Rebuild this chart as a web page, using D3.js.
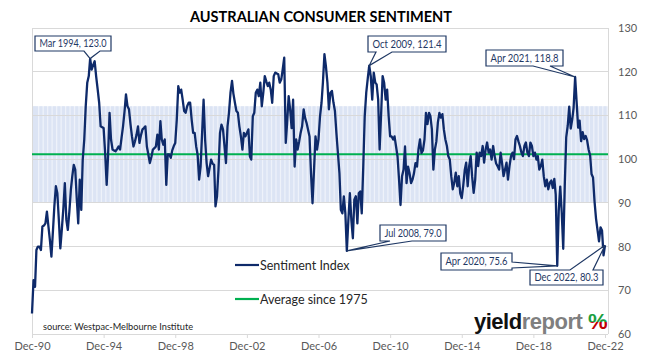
<!DOCTYPE html>
<html><head><meta charset="utf-8">
<script src="https://cdn.jsdelivr.net/npm/d3@7"></script>
<style>
body{margin:0;background:#fff;}
svg{display:block;font-family:Lato,"Open Sans",sans-serif;}
</style></head><body>
<svg id="c" width="652" height="357"></svg>
<script>
// ---------------- DATA ----------------
const chartTitle = "AUSTRALIAN CONSUMER SENTIMENT";
const firstMonth = [1990, 11]; // Dec 1990 (year, zero-based month)
// Monthly Westpac-Melbourne Institute index, Dec 1990 .. Dec 1999
const sentiment1990s = [64.7,
  72.3,70.8,79.2,80.0,80.0,79.2,84.6,84.8,85.3,88.0,84.6,81.5,
  77.7,83.5,89.2,93.8,92.2,86.0,79.6,84.0,88.8,94.5,86.1,83.8,
  88.0,93.0,96.0,98.7,97.6,91.0,85.3,95.3,88.4,99.9,104.5,112.1,
  117.5,119.0,123.0,120.5,121.5,122.4,119.0,116.0,112.9,107.5,107.3,107.1,
  101.4,94.1,100.6,110.6,104.5,102.2,102.0,101.8,102.3,102.9,102.2,104.8,
  107.5,111.0,114.8,112.1,111.4,108.0,105.2,102.9,104.1,105.5,107.5,103.7,
  105.5,106.8,107.1,107.5,102.9,101.0,99.1,100.5,102.2,102.5,102.9,105.6,
  102.2,108.7,104.5,103.3,104.5,94.1,101.1,101.1,100.3,102.0,103.0,103.7,
  109.0,116.7,115.2,115.9,113.6,111.0,110.6,112.1,112.9,112.9,109.0,106.0];
// Jan 2000 .. Dec 2009
const sentiment2000s = [
  106.0,102.9,101.0,95.3,98.3,106.0,113.6,104.5,99.1,96.1,98.0,99.9,
  99.0,98.7,89.2,91.5,97.6,106.0,107.9,106.8,102.9,99.1,107.5,110.6,
  115.2,117.9,115.0,112.9,111.0,110.6,107.5,105.2,102.2,106.0,105.2,106.0,
  106.8,100.6,99.9,109.8,110.6,115.2,115.9,114.4,117.5,112.1,115.2,119.0,
  117.8,116.7,117.5,115.9,112.9,119.0,119.8,119.6,119.4,117.5,118.2,120.5,
  123.2,103.7,108.3,114.4,111.4,107.1,113.6,98.3,104.5,102.2,104.0,106.0,
  107.5,111.4,109.5,108.3,106.8,105.2,96.8,89.9,97.6,105.2,102.2,104.5,
  109.8,112.9,117.5,124.0,121.3,117.5,111.4,115.2,115.6,113.0,111.0,106.0,
  101.4,96.8,88.4,87.6,91.5,87.6,79.0,86.0,92.2,86.1,81.9,90.7,
  91.5,85.3,92.2,92.6,87.6,98.3,109.8,115.2,118.5,121.4,119.0,113.6];
// Jan 2010 .. Dec 2019
const sentiment2010s = [
  119.8,117.5,117.1,113.6,102.2,110.6,119.0,117.5,113.6,115.9,109.8,105.2,
  105.2,104.5,105.2,102.9,100.6,95.3,89.5,96.1,97.6,102.9,94.5,98.3,
  96.8,94.5,95.3,96.8,99.1,98.3,102.2,104.5,101.4,102.0,104.5,110.6,
  108.0,110.6,109.9,106.8,97.6,102.2,104.0,108.4,110.6,109.5,110.3,106.8,
  104.5,103.0,100.7,99.9,96.1,93.1,94.6,96.9,93.8,96.1,92.1,91.1,
  94.0,97.6,99.2,93.8,98.4,100.7,96.0,92.3,95.3,101.5,98.4,101.5,
  100.7,103.0,99.2,102.2,103.8,101.5,102.2,99.9,103.0,100.7,99.0,98.4,
  97.6,101.5,99.2,96.1,97.6,99.2,95.3,98.4,100.7,101.5,100.0,104.5,
  105.3,104.0,103.0,101.5,100.7,103.0,103.8,101.5,100.7,103.8,103.0,100.7,
  101.5,99.9,100.7,97.6,98.4,99.9,96.1,93.8,95.3,93.1,94.6,95.1];
// Jan 2020 .. Dec 2022
const sentiment2020s = [
  93.4,95.5,91.9,75.6,88.1,93.7,87.9,79.5,93.8,105.0,107.7,112.0,
  107.0,109.1,111.8,118.8,113.1,107.2,108.8,104.1,106.2,104.6,105.3,104.3,
  102.2,100.8,96.6,95.8,90.4,86.4,83.8,81.2,84.4,83.7,78.0,80.3];
const averageSince1975 = 101.1;
const bandLow = 90.1;   // average - 1 std dev
const bandHigh = 112.1; // average + 1 std dev
const yTickValues = [60,70,80,90,100,110,120,130];
const xTickYears = [1990,1994,1998,2002,2006,2010,2014,2018,2022];
const seriesNames = ["Sentiment Index","Average since 1975"];
const sourceText = "source: Westpac-Melbourne Institute";
const annotationLabels = ["Mar 1994, 123.0","Oct 2009, 121.4","Apr 2021, 118.8","Jul 2008, 79.0","Apr 2020, 75.6","Dec 2022, 80.3"];
const annotationMonths = [[1994,2],[2009,9],[2021,3],[2008,6],[2020,3],[2022,11]];
const annotationValues = [123.0,121.4,118.8,79.0,75.6,80.3];

// ---------------- BUILD ----------------
const values = [].concat(sentiment1990s, sentiment2000s, sentiment2010s, sentiment2020s);
const start = new Date(Date.UTC(firstMonth[0], firstMonth[1], 1));
const data = values.map((v,i)=>({date:d3.utcMonth.offset(start,i), value:v}));

const svg = d3.select("#c");
const L=32, R=608, T=28, B=334;
const x = d3.scaleUtc().domain([start, data[data.length-1].date]).range([32,605]);
const y = d3.scaleLinear().domain([60,130]).range([B,T]);

// band (columns)
const step = x(d3.utcMonth.offset(start,3)) - x(start);
svg.append("rect").attr("x",L).attr("width",R-L).attr("y",y(bandHigh))
  .attr("height",y(bandLow)-y(bandHigh)).attr("fill","#eef2fa");
const quarterly = data.filter((d,i)=>i%3===0);
svg.append("g").selectAll("rect").data(quarterly).join("rect")
  .attr("x", d=>Math.max(L, x(d.date)-step/2+0.6))
  .attr("width", step-1.2)
  .attr("y", y(bandHigh))
  .attr("height", y(bandLow)-y(bandHigh))
  .attr("fill","#dce4f4");

// gridlines
svg.append("g").selectAll("line").data(yTickValues.filter(v=>v>60&&v<130)).join("line")
  .attr("x1",L).attr("x2",R).attr("y1",d=>y(d)).attr("y2",d=>y(d))
  .attr("stroke","#d9d9d9").attr("stroke-width",1).attr("shape-rendering","crispEdges");

// frame
svg.append("path").attr("d",`M${L},${B}V${T}H${R}V${B}`).attr("fill","none")
  .attr("stroke","#d9d9d9").attr("stroke-width",1).attr("shape-rendering","crispEdges");

// x axis
const xAxis = d3.axisBottom(x)
  .tickValues(xTickYears.map(yr=>new Date(Date.UTC(yr,11,1))))
  .tickFormat(d3.utcFormat("%b-%y")).tickSize(4).tickPadding(4);
const gx = svg.append("g").attr("transform",`translate(0,${B})`).call(xAxis);
gx.select(".domain").remove();
gx.selectAll("line").attr("stroke","#d9d9d9");
gx.append("line").attr("x1",L).attr("x2",R).attr("stroke","#d9d9d9").attr("shape-rendering","crispEdges");
gx.selectAll("text").attr("fill","#595959").attr("font-size",11).attr("font-family","Lato");

// y axis (right)
const yAxis = d3.axisRight(y).tickValues(yTickValues).tickSize(0).tickPadding(0);
const gy = svg.append("g").attr("transform","translate(618,0)").call(yAxis);
gy.select(".domain").remove();
gy.selectAll("text").attr("fill","#595959").attr("font-size",11).attr("font-family","Lato");

// average line
svg.append("line").attr("x1",L).attr("x2",R)
  .attr("y1",y(averageSince1975)).attr("y2",y(averageSince1975))
  .attr("stroke","#00b050").attr("stroke-width",2);

// sentiment line
svg.append("path").datum(data)
  .attr("d", d3.line().x(d=>x(d.date)).y(d=>y(d.value)))
  .attr("fill","none").attr("stroke","#0e2a6a").attr("stroke-width",2.3)
  .attr("stroke-linejoin","round");

// title
svg.append("text").attr("x",321).attr("y",22).attr("text-anchor","middle")
  .attr("font-weight","bold").attr("font-size",15).attr("fill","#000")
  .attr("textLength",262).attr("lengthAdjust","spacingAndGlyphs")
  .text(chartTitle);

// legend
const legendY = [265, 299];
const legendColors = ["#0e2a6a","#00b050"];
seriesNames.forEach((n,i)=>{
  svg.append("line").attr("x1",235).attr("x2",259).attr("y1",legendY[i]).attr("y2",legendY[i])
    .attr("stroke",legendColors[i]).attr("stroke-width",2.2);
  svg.append("text").attr("x",260).attr("y",legendY[i]+4.5).attr("font-size",12.5)
    .attr("fill","#262626").text(n);
});

// source
svg.append("text").attr("x",43).attr("y",330).attr("font-size",9.2).attr("fill","#262626").text(sourceText);

// logo
const logo = svg.append("text").attr("x",474).attr("y",329).attr("font-family","Liberation Sans, Arial")
  .attr("font-weight","bold").attr("font-size",22).attr("letter-spacing",-0.5)
  .attr("textLength",133).attr("lengthAdjust","spacingAndGlyphs");
logo.append("tspan").attr("fill","#111").text("yield");
logo.append("tspan").attr("fill","#7f7f7f").text("report ");
const defs = svg.append("defs");
const gr = defs.append("linearGradient").attr("id","pct").attr("x1",0).attr("x2",0).attr("y1",0).attr("y2",1);
gr.append("stop").attr("offset","50%").attr("stop-color","#1e9e3c");
gr.append("stop").attr("offset","50%").attr("stop-color","#c00000");
logo.append("tspan").attr("fill","url(#pct)").text("%");

// callouts
const boxes = [
  {x:35,y:36,w:76,h:15,side:"bottom",a:84,b:100},
  {x:368,y:36,w:78,h:16,side:"bottom",a:376,b:392},
  {x:486,y:50,w:77,h:16,side:"bottom",a:533,b:550},
  {x:380,y:225,w:66,h:16,side:"bottom",a:390,b:412},
  {x:441,y:253,w:71,h:17,side:"right",a:262,b:268},
  {x:530,y:270,w:73,h:15,side:"top",a:570,b:593}
];
annotationLabels.forEach((lab,i)=>{
  const bx = boxes[i];
  const px = x(new Date(Date.UTC(annotationMonths[i][0],annotationMonths[i][1],1)));
  const py = y(annotationValues[i]);
  const {x:X,y:Y,w:W,h:H,side,a,b} = bx;
  let p = `M${X},${Y}`;
  if(side==="top") p += `L${a},${Y}L${px},${py}L${b},${Y}`;
  p += `L${X+W},${Y}`;
  if(side==="right") p += `L${X+W},${a}L${px},${py}L${X+W},${b}`;
  p += `L${X+W},${Y+H}`;
  if(side==="bottom") p += `L${b},${Y+H}L${px},${py}L${a},${Y+H}`;
  p += `L${X},${Y+H}Z`;
  svg.append("path").attr("d",p).attr("fill","#fff").attr("stroke","#1f3864").attr("stroke-width",1.2);
  svg.append("text").attr("x",X+W/2).attr("y",Y+H/2+3.8).attr("text-anchor","middle")
    .attr("font-size",10.5).attr("fill","#1f3864")
    .attr("textLength",W-9).attr("lengthAdjust","spacingAndGlyphs").text(lab);
});
</script>
</body></html>
